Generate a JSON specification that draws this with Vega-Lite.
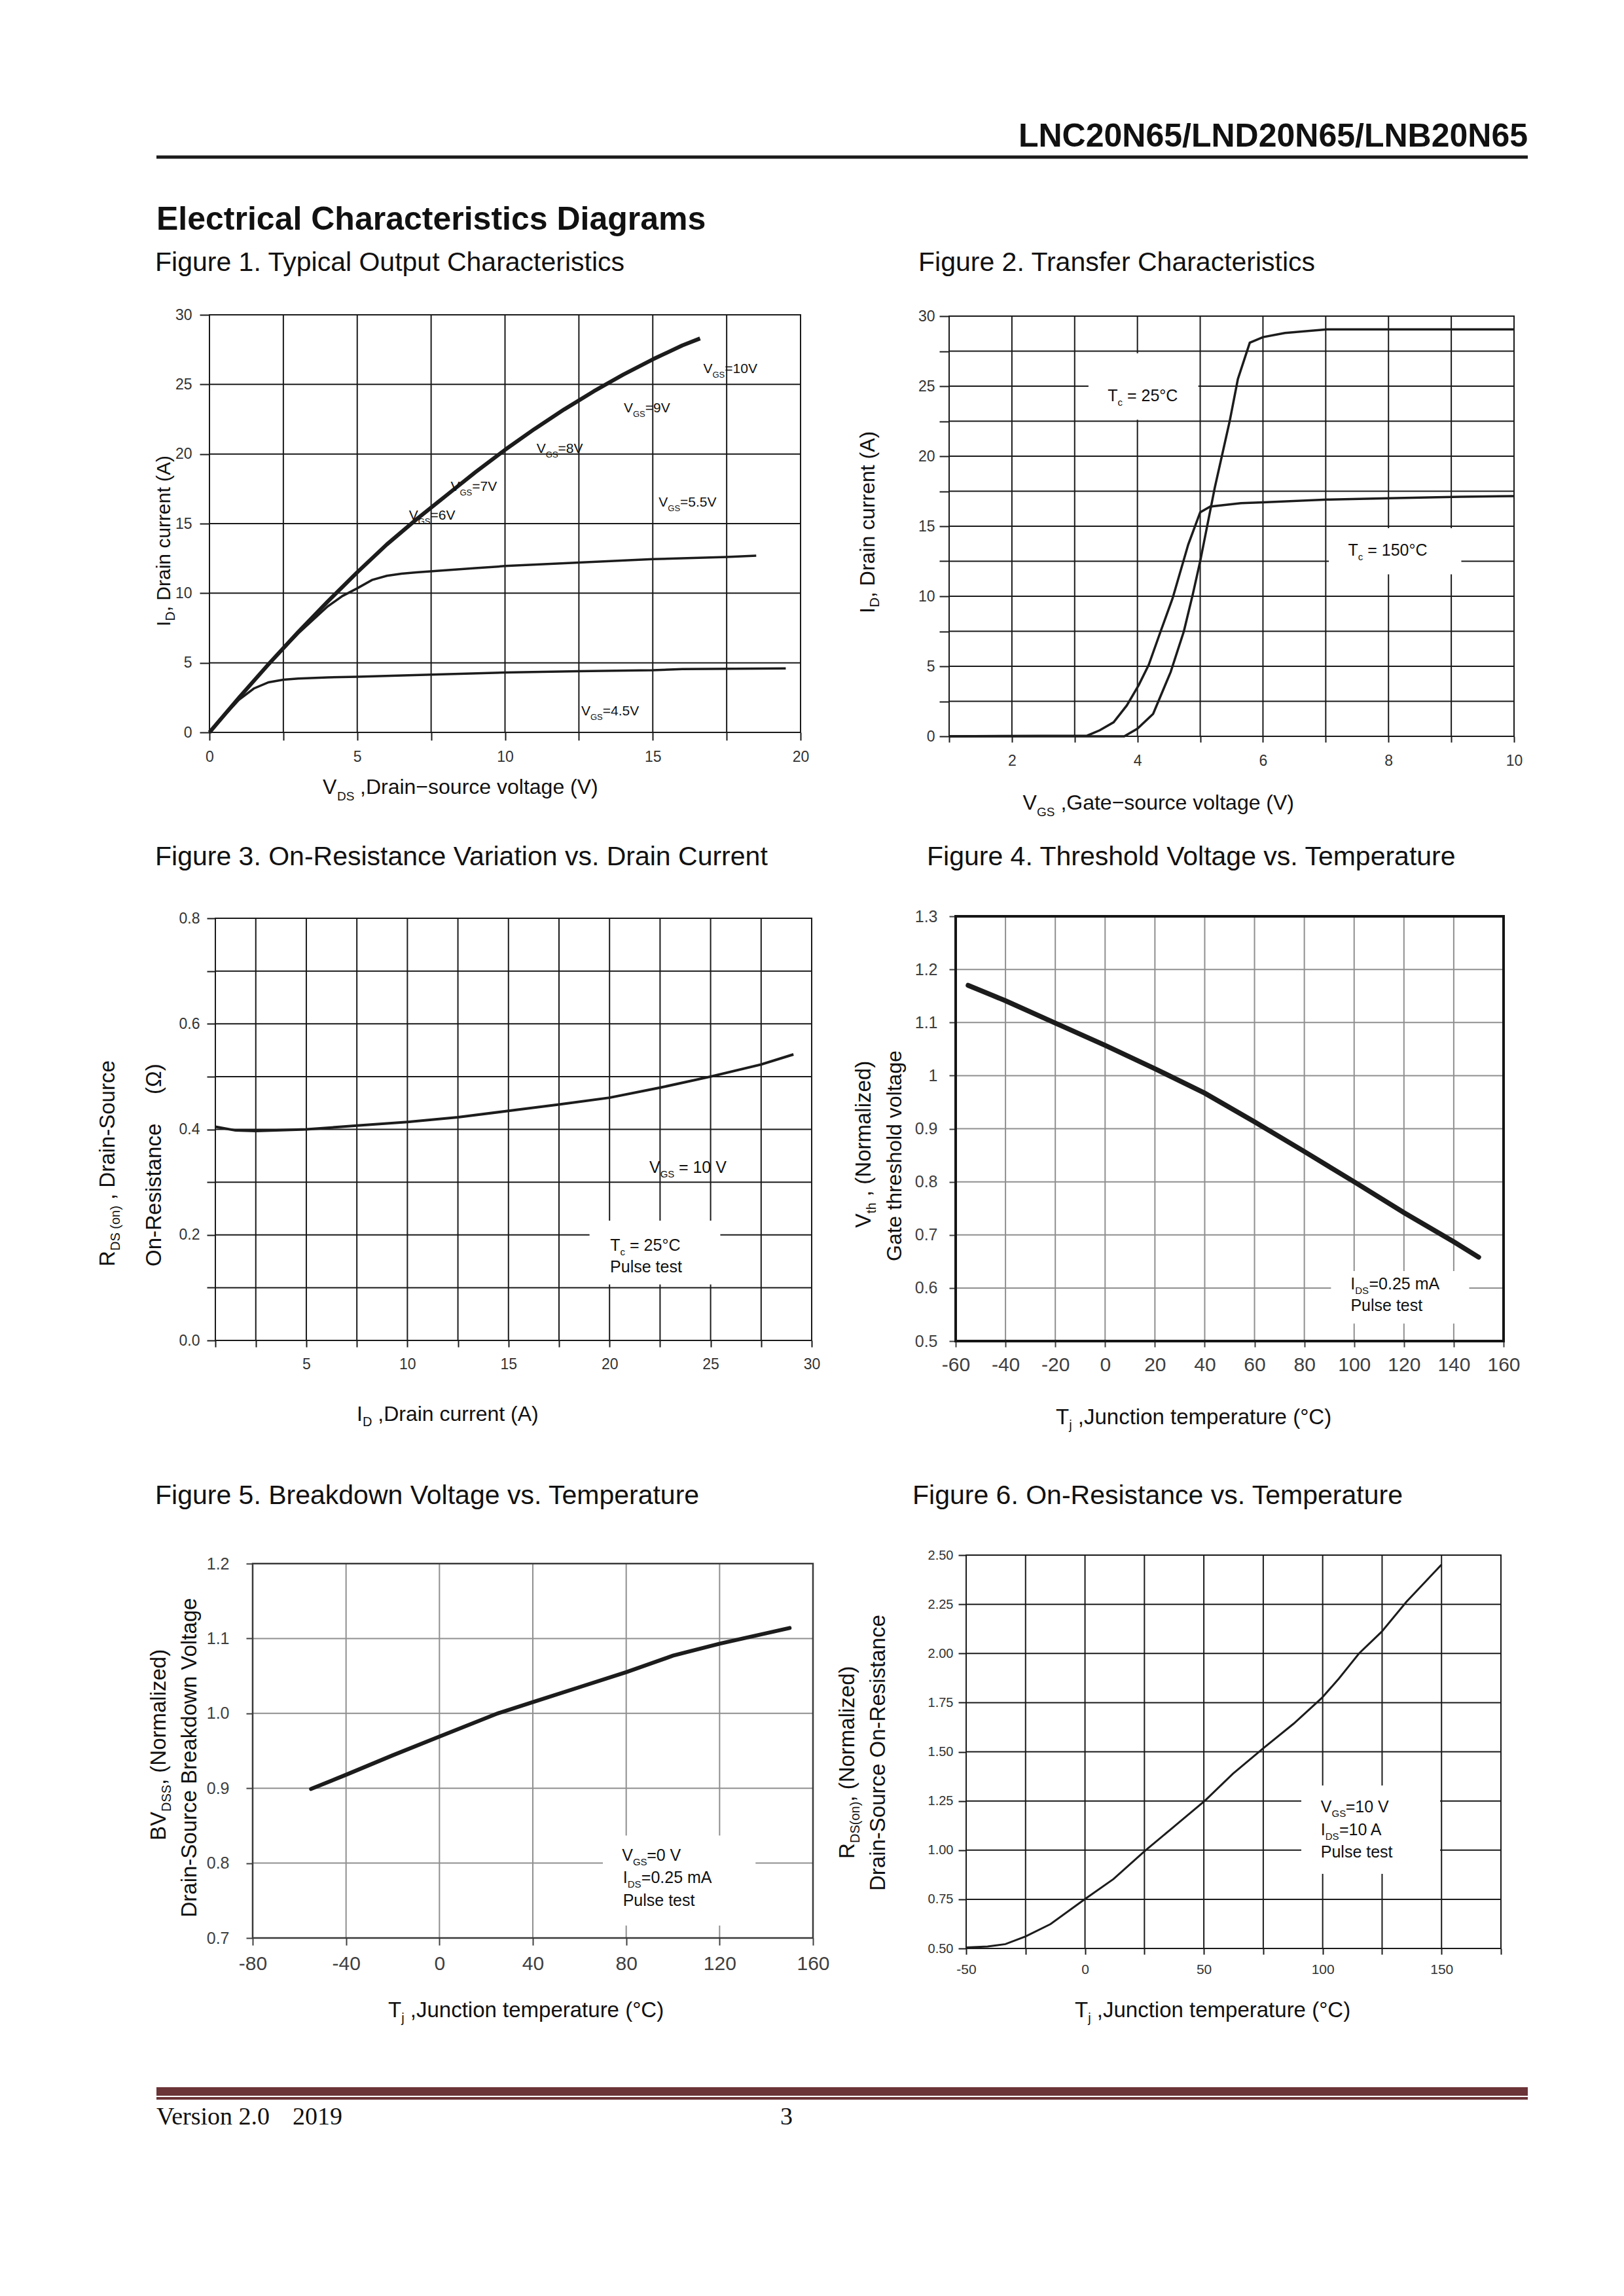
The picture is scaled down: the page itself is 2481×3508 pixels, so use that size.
{
"$schema": "https://vega.github.io/schema/vega-lite/v6.json",
"width": 2481,
"height": 3508,
"autosize": {"type": "none"},
"padding": 0,
"background": "white",
"config": {
  "view": {"stroke": null},
  "font": "Liberation Sans",
  "text": {"font": "Liberation Sans", "color": "#111111", "baseline": "alphabetic", "align": "left"},
  "axis": {"labelFont": "Liberation Sans", "domain": false, "grid": false, "ticks": true, "labelFlush": false, "labelOverlap": false, "labelBound": false}
},
"resolve": {"scale": {"x": "independent", "y": "independent"}, "axis": {"x": "independent", "y": "independent"}},
"datasets": {
  "g1x": [{"v":0},{"v":2.5},{"v":5},{"v":7.5},{"v":10},{"v":12.5},{"v":15},{"v":17.5},{"v":20}],
  "g1y": [{"v":0},{"v":5},{"v":10},{"v":15},{"v":20},{"v":25},{"v":30}],
  "g2x": [{"v":1},{"v":2},{"v":3},{"v":4},{"v":5},{"v":6},{"v":7},{"v":8},{"v":9},{"v":10}],
  "g2y": [{"v":0},{"v":2.5},{"v":5},{"v":7.5},{"v":10},{"v":12.5},{"v":15},{"v":17.5},{"v":20},{"v":22.5},{"v":25},{"v":27.5},{"v":30}],
  "g3x": [{"v":0.5},{"v":2.5},{"v":5},{"v":7.5},{"v":10},{"v":12.5},{"v":15},{"v":17.5},{"v":20},{"v":22.5},{"v":25},{"v":27.5},{"v":30}],
  "g3y": [{"v":0},{"v":0.1},{"v":0.2},{"v":0.3},{"v":0.4},{"v":0.5},{"v":0.6},{"v":0.7},{"v":0.8}],
  "g4x": [{"v":-40},{"v":-20},{"v":0},{"v":20},{"v":40},{"v":60},{"v":80},{"v":100},{"v":120},{"v":140}],
  "g4y": [{"v":0.6},{"v":0.7},{"v":0.8},{"v":0.9},{"v":1},{"v":1.1},{"v":1.2}],
  "g5x": [{"v":-40},{"v":0},{"v":40},{"v":80},{"v":120}],
  "g5y": [{"v":0.8},{"v":0.9},{"v":1},{"v":1.1}],
  "g6x": [{"v":-50},{"v":-25},{"v":0},{"v":25},{"v":50},{"v":75},{"v":100},{"v":125},{"v":150},{"v":175}],
  "g6y": [{"v":0.5},{"v":0.75},{"v":1},{"v":1.25},{"v":1.5},{"v":1.75},{"v":2},{"v":2.25},{"v":2.5}],
  "f1": [
    {"g":"10V","x":0,"y":0},{"g":"10V","x":1,"y":2.5},{"g":"10V","x":2,"y":4.9},{"g":"10V","x":3,"y":7.2},{"g":"10V","x":4,"y":9.4},{"g":"10V","x":5,"y":11.5},{"g":"10V","x":6,"y":13.5},{"g":"10V","x":7,"y":15.3},{"g":"10V","x":8,"y":17.0},{"g":"10V","x":9,"y":18.7},{"g":"10V","x":10,"y":20.3},{"g":"10V","x":11,"y":21.8},{"g":"10V","x":12,"y":23.2},{"g":"10V","x":13,"y":24.5},{"g":"10V","x":14,"y":25.7},{"g":"10V","x":15,"y":26.8},{"g":"10V","x":16,"y":27.8},{"g":"10V","x":16.6,"y":28.3},
    {"g":"5.5V","x":0,"y":0},{"g":"5.5V","x":1,"y":2.5},{"g":"5.5V","x":2,"y":4.9},{"g":"5.5V","x":3,"y":7.1},{"g":"5.5V","x":4,"y":9.05},{"g":"5.5V","x":4.5,"y":9.8},{"g":"5.5V","x":5,"y":10.35},{"g":"5.5V","x":5.5,"y":10.95},{"g":"5.5V","x":6,"y":11.25},{"g":"5.5V","x":6.5,"y":11.4},{"g":"5.5V","x":7,"y":11.5},{"g":"5.5V","x":8,"y":11.65},{"g":"5.5V","x":9,"y":11.8},{"g":"5.5V","x":10,"y":11.95},{"g":"5.5V","x":12.5,"y":12.2},{"g":"5.5V","x":15,"y":12.45},{"g":"5.5V","x":17.5,"y":12.6},{"g":"5.5V","x":18.5,"y":12.7},
    {"g":"4.5V","x":0,"y":0},{"g":"4.5V","x":0.5,"y":1.2},{"g":"4.5V","x":1,"y":2.35},{"g":"4.5V","x":1.5,"y":3.15},{"g":"4.5V","x":2,"y":3.6},{"g":"4.5V","x":2.5,"y":3.78},{"g":"4.5V","x":3,"y":3.87},{"g":"4.5V","x":4,"y":3.95},{"g":"4.5V","x":5,"y":4.0},{"g":"4.5V","x":7.5,"y":4.15},{"g":"4.5V","x":10,"y":4.3},{"g":"4.5V","x":12.5,"y":4.4},{"g":"4.5V","x":15,"y":4.47},{"g":"4.5V","x":16,"y":4.55},{"g":"4.5V","x":19.5,"y":4.6}
  ],
  "a1": [
    {"x":16.71,"y":25.8,"r":"=10V"},{"x":14.02,"y":22.99,"r":"=9V"},{"x":11.07,"y":20.09,"r":"=8V"},{"x":8.16,"y":17.33,"r":"=7V"},{"x":6.75,"y":15.29,"r":"=6V"},{"x":15.2,"y":16.2,"r":"=5.5V"},{"x":12.58,"y":1.2,"r":"=4.5V"}
  ],
  "f2": [
    {"g":"25","x":1,"y":0},{"g":"25","x":3.79,"y":0},{"g":"25","x":4.0,"y":0.55},{"g":"25","x":4.25,"y":1.6},{"g":"25","x":4.53,"y":4.6},{"g":"25","x":4.74,"y":7.5},{"g":"25","x":4.88,"y":10.1},{"g":"25","x":5.0,"y":12.5},{"g":"25","x":5.23,"y":17.7},{"g":"25","x":5.47,"y":22.5},{"g":"25","x":5.6,"y":25.5},{"g":"25","x":5.79,"y":28.1},{"g":"25","x":6.0,"y":28.5},{"g":"25","x":6.35,"y":28.8},{"g":"25","x":7.02,"y":29.05},{"g":"25","x":10,"y":29.05},
    {"g":"150","x":1,"y":0},{"g":"150","x":3.2,"y":0.05},{"g":"150","x":3.4,"y":0.43},{"g":"150","x":3.62,"y":1.0},{"g":"150","x":3.83,"y":2.2},{"g":"150","x":4.02,"y":3.65},{"g":"150","x":4.18,"y":5.1},{"g":"150","x":4.37,"y":7.5},{"g":"150","x":4.56,"y":9.85},{"g":"150","x":4.81,"y":13.7},{"g":"150","x":5.0,"y":16.0},{"g":"150","x":5.16,"y":16.4},{"g":"150","x":5.65,"y":16.65},{"g":"150","x":6.0,"y":16.7},{"g":"150","x":7.02,"y":16.9},{"g":"150","x":8.0,"y":17.0},{"g":"150","x":9.15,"y":17.1},{"g":"150","x":10,"y":17.15}
  ],
  "b2": [{"x1":3.22,"x2":4.97,"y1":22.6,"y2":27.35},{"x1":7.05,"x2":9.16,"y1":11.57,"y2":14.86}],
  "a2": [
    {"x":3.685,"y":23.92,"b":"T","s":"c","r":"= 25°C","k":"c"},
    {"x":7.515,"y":12.88,"b":"T","s":"c","r":"= 150°C","k":"c"}
  ],
  "f3": [
    {"x":0.5,"y":0.405},{"x":1.5,"y":0.398},{"x":2.5,"y":0.397},{"x":5,"y":0.4},{"x":7.5,"y":0.407},{"x":10,"y":0.414},{"x":12.5,"y":0.423},{"x":15,"y":0.435},{"x":17.5,"y":0.447},{"x":20,"y":0.46},{"x":22.5,"y":0.479},{"x":25,"y":0.5},{"x":27.5,"y":0.523},{"x":29.1,"y":0.542}
  ],
  "b3": [{"x1":19.01,"x2":25.48,"y1":0.106,"y2":0.227}],
  "a3": [
    {"x":22.51,"y":0.3176,"b":"V","s":"GS","r":"= 10 V","k":"w"},
    {"x":20.53,"y":0.1696,"b":"T","s":"c","r":"= 25°C","k":"c"},
    {"x":20.03,"y":0.129,"b":"","s":"","r":"Pulse test","k":"p"}
  ],
  "f4": [
    {"x":-55,"y":1.17},{"x":-40,"y":1.141},{"x":-20,"y":1.099},{"x":0,"y":1.057},{"x":20,"y":1.013},{"x":40,"y":0.967},{"x":60,"y":0.913},{"x":80,"y":0.857},{"x":100,"y":0.8},{"x":120,"y":0.742},{"x":140,"y":0.687},{"x":150,"y":0.658}
  ],
  "b4": [{"x1":90.7,"x2":146.2,"y1":0.533,"y2":0.632}],
  "a4": [
    {"x":100.4,"y":0.597,"b":"I","s":"DS","r":"=0.25 mA","k":"n"},
    {"x":98.6,"y":0.557,"b":"","s":"","r":"Pulse test","k":"p"}
  ],
  "f5": [
    {"x":-55,"y":0.899},{"x":-40,"y":0.918},{"x":-20,"y":0.944},{"x":0,"y":0.969},{"x":25,"y":1.0},{"x":40,"y":1.015},{"x":60,"y":1.035},{"x":80,"y":1.055},{"x":100,"y":1.077},{"x":120,"y":1.093},{"x":140,"y":1.107},{"x":150,"y":1.114}
  ],
  "b5": [{"x1":70,"x2":135.4,"y1":0.7165,"y2":0.8368}],
  "a5": [
    {"x":82.88,"y":0.8034,"b":"V","s":"GS","r":"=0 V","k":"n"},
    {"x":80.55,"y":0.7735,"b":"I","s":"DS","r":"=0.25 mA","k":"n"},
    {"x":78.6,"y":0.7432,"b":"","s":"","r":"Pulse test","k":"p"}
  ],
  "f6": [
    {"x":-50,"y":0.505},{"x":-41,"y":0.51},{"x":-33.5,"y":0.522},{"x":-25,"y":0.561},{"x":-14.5,"y":0.624},{"x":0,"y":0.751},{"x":12,"y":0.853},{"x":25.3,"y":0.997},{"x":38.5,"y":1.13},{"x":50.5,"y":1.252},{"x":62.2,"y":1.388},{"x":75.1,"y":1.519},{"x":87.8,"y":1.643},{"x":99.6,"y":1.773},{"x":106.8,"y":1.872},{"x":115.3,"y":2.0},{"x":124.8,"y":2.11},{"x":135.2,"y":2.262},{"x":150,"y":2.452}
  ],
  "b6": [{"x1":91,"x2":149.4,"y1":0.879,"y2":1.3285}],
  "a6": [
    {"x":103.8,"y":1.1927,"b":"V","s":"GS","r":"=10 V","k":"n"},
    {"x":101.11,"y":1.077,"b":"I","s":"DS","r":"=10 A","k":"n"},
    {"x":99.2,"y":0.9635,"b":"","s":"","r":"Pulse test","k":"p"}
  ]
},
"layer": [
  {"data": {"values": [{}]},
   "encoding": {"x": {"datum": 0, "scale": {"domain": [0, 1], "range": [239, 2334]}, "axis": null}, "y": {"datum": 0, "scale": {"domain": [0, 1], "range": [240, 0]}, "axis": null}},
   "layer": [
     {"mark": {"type": "rule", "color": "#1a1a1a", "strokeWidth": 5}, "encoding": {"x2": {"datum": 1}}},
     {"mark": {"type": "text", "text": "LNC20N65/LND20N65/LNB20N65", "align": "right", "fontSize": 50, "fontWeight": "bold", "dy": -16}, "encoding": {"x": {"datum": 1, "axis": null}}},
     {"mark": {"type": "text", "text": "Electrical Characteristics Diagrams", "fontSize": 50, "fontWeight": "bold", "dy": 111}}
   ]},
  {"data": {"values": [{}]},
   "mark": {"type": "rect", "color": "#6b3437"},
   "encoding": {"x": {"datum": 0, "scale": {"domain": [0, 1], "range": [239, 2334]}, "axis": null}, "x2": {"datum": 1}, "y": {"datum": 0, "scale": {"domain": [0, 1], "range": [3202, 3189]}, "axis": null}, "y2": {"datum": 1}}},
  {"data": {"values": [{}]},
   "encoding": {"x": {"datum": 0, "scale": {"domain": [0, 1], "range": [239, 2334]}, "axis": null}, "y": {"datum": 0, "scale": {"domain": [0, 1], "range": [3208, 3204]}, "axis": null}},
   "layer": [
     {"mark": {"type": "rect", "color": "#6b3437"}, "encoding": {"x2": {"datum": 1}, "y2": {"datum": 1}}},
     {"mark": {"type": "text", "text": "Version 2.0", "font": "Liberation Serif", "fontSize": 38, "dy": 38}},
     {"mark": {"type": "text", "text": "2019", "font": "Liberation Serif", "fontSize": 38, "dy": 38}, "encoding": {"x": {"datum": 0.0993, "axis": null}}},
     {"mark": {"type": "text", "text": "3", "font": "Liberation Serif", "fontSize": 38, "dy": 38}, "encoding": {"x": {"datum": 0.4549, "axis": null}}}
   ]},

  {"layer": [
     {"data": {"name": "g1x"}, "mark": {"type": "rule", "color": "#1a1a1a", "strokeWidth": 2, "strokeCap": "square"},
      "encoding": {"x": {"field": "v", "type": "quantitative", "title": null}, "y": {"datum": 0}, "y2": {"datum": 30}}},
     {"data": {"name": "g1y"}, "mark": {"type": "rule", "color": "#1a1a1a", "strokeWidth": 2, "strokeCap": "square"},
      "encoding": {"y": {"field": "v", "type": "quantitative", "title": null}, "x": {"datum": 0}, "x2": {"datum": 20}}},
     {"data": {"name": "f1"}, "transform": [{"filter": "datum.g == '10V'"}],
      "mark": {"type": "line", "color": "#1c1c1c", "strokeWidth": 6, "strokeJoin": "round"},
      "encoding": {
        "x": {"field": "x", "type": "quantitative", "title": null, "scale": {"domain": [0, 20], "range": [320, 1223], "nice": false, "zero": false},
          "axis": {"grid": false, "orient": "bottom", "offset": -2389, "values": [0, 2.5, 5, 7.5, 10, 12.5, 15, 17.5, 20], "labelExpr": "datum.value % 5 == 0 ? '' + datum.value : ''", "tickColor": "#1a1a1a", "tickWidth": 2, "tickSize": 12, "labelPadding": 14, "labelFontSize": 23, "labelColor": "#333333"}},
        "y": {"field": "y", "type": "quantitative", "title": null, "scale": {"domain": [0, 30], "range": [1119, 481], "nice": false, "zero": false},
          "axis": {"grid": false, "orient": "left", "offset": -320, "values": [0, 5, 10, 15, 20, 25, 30], "labelExpr": "'' + datum.value", "tickColor": "#1a1a1a", "tickWidth": 2, "tickSize": 15, "labelPadding": 12, "labelFontSize": 23, "labelColor": "#333333"}}
      }},
     {"data": {"name": "f1"}, "transform": [{"filter": "datum.g != '10V'"}],
      "mark": {"type": "line", "color": "#1c1c1c", "strokeWidth": 3.5},
      "encoding": {"x": {"field": "x", "type": "quantitative", "title": null}, "y": {"field": "y", "type": "quantitative", "title": null}, "detail": {"field": "g"}}},
     {"data": {"name": "a1"},
      "encoding": {"x": {"field": "x", "type": "quantitative", "title": null}, "y": {"field": "y", "type": "quantitative", "title": null}},
      "layer": [
        {"mark": {"type": "text", "text": "V", "fontSize": 21}},
        {"mark": {"type": "text", "text": "GS", "fontSize": 13, "dx": 14, "dy": 7}},
        {"mark": {"type": "text", "fontSize": 21, "dx": 32.8}, "encoding": {"text": {"field": "r"}}}
      ]},
     {"data": {"values": [{}]},
      "encoding": {"x": {"datum": 0}, "y": {"datum": 0}},
      "layer": [
        {"mark": {"type": "text", "text": "Figure 1. Typical Output Characteristics", "fontSize": 41, "dx": -83, "dy": -67}, "encoding": {"y": {"datum": 30}}},
        {"mark": {"type": "text", "text": "V", "fontSize": 32, "dx": 173, "dy": 94}},
        {"mark": {"type": "text", "text": "DS", "fontSize": 19, "dx": 195, "dy": 104}},
        {"mark": {"type": "text", "text": ",Drain−source voltage (V)", "fontSize": 32, "dx": 230, "dy": 94}},
        {"mark": {"type": "text", "text": "I", "fontSize": 30, "angle": 270, "dx": 162, "dy": -60}},
        {"mark": {"type": "text", "text": "D", "fontSize": 20, "angle": 270, "dx": 170.3, "dy": -53}},
        {"mark": {"type": "text", "text": ", Drain current (A)", "fontSize": 30, "angle": 270, "dx": 184.7, "dy": -60}}
      ]}
  ]},

  {"layer": [
     {"data": {"name": "g2x"}, "mark": {"type": "rule", "color": "#1a1a1a", "strokeWidth": 2, "strokeCap": "square"},
      "encoding": {"x": {"field": "v", "type": "quantitative", "title": null}, "y": {"datum": 0}, "y2": {"datum": 30}}},
     {"data": {"name": "g2y"}, "mark": {"type": "rule", "color": "#1a1a1a", "strokeWidth": 2, "strokeCap": "square"},
      "encoding": {"y": {"field": "v", "type": "quantitative", "title": null}, "x": {"datum": 1}, "x2": {"datum": 10}}},
     {"data": {"name": "b2"}, "mark": {"type": "rect", "color": "white"},
      "encoding": {"x": {"field": "x1", "type": "quantitative", "title": null}, "x2": {"field": "x2"}, "y": {"field": "y1", "type": "quantitative", "title": null}, "y2": {"field": "y2"}}},
     {"data": {"name": "f2"},
      "mark": {"type": "line", "color": "#1c1c1c", "strokeWidth": 3.5},
      "encoding": {
        "x": {"field": "x", "type": "quantitative", "title": null, "scale": {"domain": [1, 10], "range": [1450, 2313], "nice": false, "zero": false},
          "axis": {"grid": false, "orient": "bottom", "offset": -2383, "values": [1, 2, 3, 4, 5, 6, 7, 8, 9, 10], "labelExpr": "datum.value % 2 == 0 ? '' + datum.value : ''", "tickColor": "#1a1a1a", "tickWidth": 2, "tickSize": 9, "labelPadding": 17, "labelFontSize": 23, "labelColor": "#333333"}},
        "y": {"field": "y", "type": "quantitative", "title": null, "scale": {"domain": [0, 30], "range": [1125, 483], "nice": false, "zero": false},
          "axis": {"grid": false, "orient": "left", "offset": -1450, "values": [0, 2.5, 5, 7.5, 10, 12.5, 15, 17.5, 20, 22.5, 25, 27.5, 30], "labelExpr": "datum.value % 5 == 0 ? '' + datum.value : ''", "tickColor": "#1a1a1a", "tickWidth": 2, "tickSize": 15, "labelPadding": 7, "labelFontSize": 23, "labelColor": "#333333"}},
        "detail": {"field": "g"}
      }},
     {"data": {"name": "a2"},
      "encoding": {"x": {"field": "x", "type": "quantitative", "title": null}, "y": {"field": "y", "type": "quantitative", "title": null}},
      "layer": [
        {"mark": {"type": "text", "align": "right", "fontSize": 25}, "encoding": {"text": {"field": "b"}}},
        {"mark": {"type": "text", "fontSize": 15, "dy": 7}, "encoding": {"text": {"field": "s"}}},
        {"mark": {"type": "text", "fontSize": 25, "dx": 14.5}, "encoding": {"text": {"field": "r"}}}
      ]},
     {"data": {"values": [{}]},
      "encoding": {"x": {"datum": 1}, "y": {"datum": 0}},
      "layer": [
        {"mark": {"type": "text", "text": "Figure 2. Transfer Characteristics", "fontSize": 41, "dx": -47, "dy": -69}, "encoding": {"y": {"datum": 30}}},
        {"mark": {"type": "text", "text": "V", "fontSize": 32, "dx": 112.5, "dy": 112}},
        {"mark": {"type": "text", "text": "GS", "fontSize": 19, "dx": 134, "dy": 122}},
        {"mark": {"type": "text", "text": ",Gate−source voltage (V)", "fontSize": 32, "dx": 170.4, "dy": 112}},
        {"mark": {"type": "text", "text": "I", "fontSize": 32, "angle": 270, "dx": 188, "dy": -114}},
        {"mark": {"type": "text", "text": "D", "fontSize": 21, "angle": 270, "dx": 196.9, "dy": -107}},
        {"mark": {"type": "text", "text": ", Drain current (A)", "fontSize": 32, "angle": 270, "dx": 212, "dy": -114}}
      ]}
  ]},

  {"layer": [
     {"data": {"name": "g3x"}, "mark": {"type": "rule", "color": "#1a1a1a", "strokeWidth": 2, "strokeCap": "square"},
      "encoding": {"x": {"field": "v", "type": "quantitative", "title": null}, "y": {"datum": 0}, "y2": {"datum": 0.8}}},
     {"data": {"name": "g3y"}, "mark": {"type": "rule", "color": "#1a1a1a", "strokeWidth": 2, "strokeCap": "square"},
      "encoding": {"y": {"field": "v", "type": "quantitative", "title": null}, "x": {"datum": 0.5}, "x2": {"datum": 30}}},
     {"data": {"name": "b3"}, "mark": {"type": "rect", "color": "white"},
      "encoding": {"x": {"field": "x1", "type": "quantitative", "title": null}, "x2": {"field": "x2"}, "y": {"field": "y1", "type": "quantitative", "title": null}, "y2": {"field": "y2"}}},
     {"data": {"name": "f3"},
      "mark": {"type": "line", "color": "#1c1c1c", "strokeWidth": 4},
      "encoding": {
        "x": {"field": "x", "type": "quantitative", "title": null, "scale": {"domain": [0.5, 30], "range": [329, 1240], "nice": false, "zero": false},
          "axis": {"grid": false, "orient": "bottom", "offset": -1460, "values": [0.5, 2.5, 5, 7.5, 10, 12.5, 15, 17.5, 20, 22.5, 25, 27.5, 30], "labelExpr": "datum.value % 5 == 0 ? '' + datum.value : ''", "tickColor": "#1a1a1a", "tickWidth": 2, "tickSize": 10, "labelPadding": 15, "labelFontSize": 23, "labelColor": "#333333"}},
        "y": {"field": "y", "type": "quantitative", "title": null, "scale": {"domain": [0, 0.8], "range": [2048, 1403], "nice": false, "zero": false},
          "axis": {"grid": false, "orient": "left", "offset": -329, "values": [0, 0.1, 0.2, 0.3, 0.4, 0.5, 0.6, 0.7, 0.8], "labelExpr": "round(datum.value * 10) % 2 == 0 ? format(datum.value, '.1f') : ''", "tickColor": "#1a1a1a", "tickWidth": 2, "tickSize": 13, "labelPadding": 11, "labelFontSize": 23, "labelColor": "#333333"}}
      }},
     {"data": {"name": "a3"},
      "encoding": {"x": {"field": "x", "type": "quantitative", "title": null}, "y": {"field": "y", "type": "quantitative", "title": null}},
      "layer": [
        {"transform": [{"filter": "datum.k != 'p'"}], "mark": {"type": "text", "align": "right", "fontSize": 25}, "encoding": {"text": {"field": "b"}}},
        {"transform": [{"filter": "datum.k != 'p'"}], "mark": {"type": "text", "fontSize": 15, "dy": 7}, "encoding": {"text": {"field": "s"}}},
        {"transform": [{"filter": "datum.k == 'w'"}], "mark": {"type": "text", "fontSize": 25, "dx": 28.2}, "encoding": {"text": {"field": "r"}}},
        {"transform": [{"filter": "datum.k == 'c'"}], "mark": {"type": "text", "fontSize": 25, "dx": 14.5}, "encoding": {"text": {"field": "r"}}},
        {"transform": [{"filter": "datum.k == 'p'"}], "mark": {"type": "text", "fontSize": 25}, "encoding": {"text": {"field": "r"}}}
      ]},
     {"data": {"values": [{}]},
      "encoding": {"x": {"datum": 0.5}, "y": {"datum": 0}},
      "layer": [
        {"mark": {"type": "text", "text": "Figure 3. On-Resistance Variation vs. Drain Current", "fontSize": 41, "dx": -92, "dy": -81}, "encoding": {"y": {"datum": 0.8}}},
        {"mark": {"type": "text", "text": "I", "fontSize": 32, "dx": 216, "dy": 123}},
        {"mark": {"type": "text", "text": "D", "fontSize": 20, "dx": 225, "dy": 131}},
        {"mark": {"type": "text", "text": ",Drain current (A)", "fontSize": 32, "dx": 248.3, "dy": 123}},
        {"mark": {"type": "text", "text": "R", "fontSize": 33, "angle": 270, "dx": 113, "dy": -154}},
        {"mark": {"type": "text", "text": "DS (on)", "fontSize": 20, "angle": 270, "dx": 137, "dy": -146}},
        {"mark": {"type": "text", "text": ", Drain-Source", "fontSize": 33, "angle": 270, "dx": 215, "dy": -154}},
        {"mark": {"type": "text", "text": "On-Resistance", "fontSize": 33, "angle": 270, "dx": 113, "dy": -83}},
        {"mark": {"type": "text", "text": "(Ω)", "fontSize": 33, "angle": 270, "dx": 376, "dy": -83}}
      ]}
  ]},

  {"layer": [
     {"data": {"name": "g4x"}, "mark": {"type": "rule", "color": "#8f8f8f", "strokeWidth": 2},
      "encoding": {"x": {"field": "v", "type": "quantitative", "title": null}, "y": {"datum": 0.5}, "y2": {"datum": 1.3}}},
     {"data": {"name": "g4y"}, "mark": {"type": "rule", "color": "#8f8f8f", "strokeWidth": 2},
      "encoding": {"y": {"field": "v", "type": "quantitative", "title": null}, "x": {"datum": -60}, "x2": {"datum": 160}}},
     {"data": {"name": "b4"}, "mark": {"type": "rect", "color": "white"},
      "encoding": {"x": {"field": "x1", "type": "quantitative", "title": null}, "x2": {"field": "x2"}, "y": {"field": "y1", "type": "quantitative", "title": null}, "y2": {"field": "y2"}}},
     {"data": {"name": "f4"},
      "mark": {"type": "line", "color": "#1c1c1c", "strokeWidth": 7.5, "strokeCap": "round"},
      "encoding": {
        "x": {"field": "x", "type": "quantitative", "title": null, "scale": {"domain": [-60, 160], "range": [1460, 2297], "nice": false, "zero": false},
          "axis": {"grid": false, "orient": "bottom", "offset": -1459, "values": [-60, -40, -20, 0, 20, 40, 60, 80, 100, 120, 140, 160], "labelExpr": "'' + datum.value", "tickColor": "#404040", "tickWidth": 2, "tickSize": 9, "labelPadding": 12, "labelFontSize": 30, "labelColor": "#404040"}},
        "y": {"field": "y", "type": "quantitative", "title": null, "scale": {"domain": [0.5, 1.3], "range": [2049, 1400], "nice": false, "zero": false},
          "axis": {"grid": false, "orient": "left", "offset": -1460, "values": [0.5, 0.6, 0.7, 0.8, 0.9, 1, 1.1, 1.2, 1.3], "labelExpr": "'' + datum.value", "tickColor": "#404040", "tickWidth": 2, "tickSize": 10, "labelPadding": 18, "labelFontSize": 25, "labelColor": "#404040"}}
      }},
     {"data": {"name": "a4"},
      "encoding": {"x": {"field": "x", "type": "quantitative", "title": null}, "y": {"field": "y", "type": "quantitative", "title": null}},
      "layer": [
        {"transform": [{"filter": "datum.k != 'p'"}], "mark": {"type": "text", "align": "right", "fontSize": 25}, "encoding": {"text": {"field": "b"}}},
        {"transform": [{"filter": "datum.k != 'p'"}], "mark": {"type": "text", "fontSize": 15, "dy": 7}, "encoding": {"text": {"field": "s"}}},
        {"transform": [{"filter": "datum.k == 'n'"}], "mark": {"type": "text", "fontSize": 25, "dx": 21.2}, "encoding": {"text": {"field": "r"}}},
        {"transform": [{"filter": "datum.k == 'p'"}], "mark": {"type": "text", "fontSize": 25}, "encoding": {"text": {"field": "r"}}}
      ]},
     {"data": {"values": [{}]},
      "encoding": {"x": {"datum": -60}, "y": {"datum": 0.5}},
      "layer": [
        {"mark": {"type": "rect", "filled": false, "color": "#151515", "strokeWidth": 4}, "encoding": {"x2": {"datum": 160}, "y2": {"datum": 1.3}}},
        {"mark": {"type": "text", "text": "Figure 4. Threshold Voltage vs. Temperature", "fontSize": 41, "dx": -44, "dy": -78}, "encoding": {"y": {"datum": 1.3}}},
        {"mark": {"type": "text", "text": "T", "fontSize": 33, "dx": 153, "dy": 127}},
        {"mark": {"type": "text", "text": "j", "fontSize": 20, "dx": 173.2, "dy": 135}},
        {"mark": {"type": "text", "text": ",Junction temperature (°C)", "fontSize": 33, "dx": 186.8, "dy": 127}},
        {"mark": {"type": "text", "text": "V", "fontSize": 33, "angle": 270, "dx": 173, "dy": -130}},
        {"mark": {"type": "text", "text": "th", "fontSize": 20, "angle": 270, "dx": 195, "dy": -122}},
        {"mark": {"type": "text", "text": ", (Normalized)", "fontSize": 33, "angle": 270, "dx": 221, "dy": -130}},
        {"mark": {"type": "text", "text": "Gate threshold voltage", "fontSize": 32, "angle": 270, "dx": 122, "dy": -83}}
      ]}
  ]},

  {"layer": [
     {"data": {"name": "g5x"}, "mark": {"type": "rule", "color": "#8f8f8f", "strokeWidth": 2},
      "encoding": {"x": {"field": "v", "type": "quantitative", "title": null}, "y": {"datum": 0.7}, "y2": {"datum": 1.2}}},
     {"data": {"name": "g5y"}, "mark": {"type": "rule", "color": "#8f8f8f", "strokeWidth": 2},
      "encoding": {"y": {"field": "v", "type": "quantitative", "title": null}, "x": {"datum": -80}, "x2": {"datum": 160}}},
     {"data": {"name": "b5"}, "mark": {"type": "rect", "color": "white"},
      "encoding": {"x": {"field": "x1", "type": "quantitative", "title": null}, "x2": {"field": "x2"}, "y": {"field": "y1", "type": "quantitative", "title": null}, "y2": {"field": "y2"}}},
     {"data": {"name": "f5"},
      "mark": {"type": "line", "color": "#1c1c1c", "strokeWidth": 6, "strokeCap": "round"},
      "encoding": {
        "x": {"field": "x", "type": "quantitative", "title": null, "scale": {"domain": [-80, 160], "range": [386, 1242], "nice": false, "zero": false},
          "axis": {"grid": false, "orient": "bottom", "offset": -547, "values": [-80, -40, 0, 40, 80, 120, 160], "labelExpr": "'' + datum.value", "tickColor": "#404040", "tickWidth": 2, "tickSize": 11, "labelPadding": 13, "labelFontSize": 30, "labelColor": "#404040"}},
        "y": {"field": "y", "type": "quantitative", "title": null, "scale": {"domain": [0.7, 1.2], "range": [2961, 2389], "nice": false, "zero": false},
          "axis": {"grid": false, "orient": "left", "offset": -386, "values": [0.7, 0.8, 0.9, 1, 1.1, 1.2], "labelExpr": "format(datum.value, '.1f')", "tickColor": "#404040", "tickWidth": 2, "tickSize": 10, "labelPadding": 26, "labelFontSize": 25, "labelColor": "#404040"}}
      }},
     {"data": {"name": "a5"},
      "encoding": {"x": {"field": "x", "type": "quantitative", "title": null}, "y": {"field": "y", "type": "quantitative", "title": null}},
      "layer": [
        {"transform": [{"filter": "datum.k != 'p'"}], "mark": {"type": "text", "align": "right", "fontSize": 25}, "encoding": {"text": {"field": "b"}}},
        {"transform": [{"filter": "datum.k != 'p'"}], "mark": {"type": "text", "fontSize": 15, "dy": 7}, "encoding": {"text": {"field": "s"}}},
        {"transform": [{"filter": "datum.k == 'n'"}], "mark": {"type": "text", "fontSize": 25, "dx": 21.2}, "encoding": {"text": {"field": "r"}}},
        {"transform": [{"filter": "datum.k == 'p'"}], "mark": {"type": "text", "fontSize": 25}, "encoding": {"text": {"field": "r"}}}
      ]},
     {"data": {"values": [{}]},
      "encoding": {"x": {"datum": -80}, "y": {"datum": 0.7}},
      "layer": [
        {"mark": {"type": "rect", "filled": false, "color": "#3a3a3a", "strokeWidth": 2.5}, "encoding": {"x2": {"datum": 160}, "y2": {"datum": 1.2}}},
        {"mark": {"type": "text", "text": "Figure 5. Breakdown Voltage vs. Temperature", "fontSize": 41, "dx": -149, "dy": -91}, "encoding": {"y": {"datum": 1.2}}},
        {"mark": {"type": "text", "text": "T", "fontSize": 33, "dx": 207, "dy": 121}},
        {"mark": {"type": "text", "text": "j", "fontSize": 20, "dx": 227.2, "dy": 129}},
        {"mark": {"type": "text", "text": ",Junction temperature (°C)", "fontSize": 33, "dx": 240.8, "dy": 121}},
        {"mark": {"type": "text", "text": "BV", "fontSize": 33, "angle": 270, "dx": 149, "dy": -133}},
        {"mark": {"type": "text", "text": "DSS", "fontSize": 20, "angle": 270, "dx": 193, "dy": -125}},
        {"mark": {"type": "text", "text": ", (Normalized)", "fontSize": 33, "angle": 270, "dx": 234, "dy": -133}},
        {"mark": {"type": "text", "text": "Drain-Source Breakdown Voltage", "fontSize": 33, "angle": 270, "dx": 31.5, "dy": -86}}
      ]}
  ]},

  {"layer": [
     {"data": {"name": "g6x"}, "mark": {"type": "rule", "color": "#1a1a1a", "strokeWidth": 2, "strokeCap": "square"},
      "encoding": {"x": {"field": "v", "type": "quantitative", "title": null}, "y": {"datum": 0.5}, "y2": {"datum": 2.5}}},
     {"data": {"name": "g6y"}, "mark": {"type": "rule", "color": "#1a1a1a", "strokeWidth": 2, "strokeCap": "square"},
      "encoding": {"y": {"field": "v", "type": "quantitative", "title": null}, "x": {"datum": -50}, "x2": {"datum": 175}}},
     {"data": {"name": "b6"}, "mark": {"type": "rect", "color": "white"},
      "encoding": {"x": {"field": "x1", "type": "quantitative", "title": null}, "x2": {"field": "x2"}, "y": {"field": "y1", "type": "quantitative", "title": null}, "y2": {"field": "y2"}}},
     {"data": {"name": "f6"},
      "mark": {"type": "line", "color": "#1c1c1c", "strokeWidth": 3},
      "encoding": {
        "x": {"field": "x", "type": "quantitative", "title": null, "scale": {"domain": [-50, 175], "range": [1476, 2293], "nice": false, "zero": false},
          "axis": {"grid": false, "orient": "bottom", "offset": -531, "values": [-50, -25, 0, 25, 50, 75, 100, 125, 150, 175], "labelExpr": "datum.value % 50 == 0 ? '' + datum.value : ''", "tickColor": "#1a1a1a", "tickWidth": 2, "tickSize": 9, "labelPadding": 12, "labelFontSize": 21, "labelColor": "#333333"}},
        "y": {"field": "y", "type": "quantitative", "title": null, "scale": {"domain": [0.5, 2.5], "range": [2977, 2376], "nice": false, "zero": false},
          "axis": {"grid": false, "orient": "left", "offset": -1476, "values": [0.5, 0.75, 1, 1.25, 1.5, 1.75, 2, 2.25, 2.5], "labelExpr": "format(datum.value, '.2f')", "tickColor": "#1a1a1a", "tickWidth": 2, "tickSize": 12, "labelPadding": 8, "labelFontSize": 20, "labelColor": "#333333"}}
      }},
     {"data": {"name": "a6"},
      "encoding": {"x": {"field": "x", "type": "quantitative", "title": null}, "y": {"field": "y", "type": "quantitative", "title": null}},
      "layer": [
        {"transform": [{"filter": "datum.k != 'p'"}], "mark": {"type": "text", "align": "right", "fontSize": 25}, "encoding": {"text": {"field": "b"}}},
        {"transform": [{"filter": "datum.k != 'p'"}], "mark": {"type": "text", "fontSize": 15, "dy": 7}, "encoding": {"text": {"field": "s"}}},
        {"transform": [{"filter": "datum.k == 'n'"}], "mark": {"type": "text", "fontSize": 25, "dx": 21.2}, "encoding": {"text": {"field": "r"}}},
        {"transform": [{"filter": "datum.k == 'p'"}], "mark": {"type": "text", "fontSize": 25}, "encoding": {"text": {"field": "r"}}}
      ]},
     {"data": {"values": [{}]},
      "encoding": {"x": {"datum": -50}, "y": {"datum": 0.5}},
      "layer": [
        {"mark": {"type": "text", "text": "Figure 6. On-Resistance vs. Temperature", "fontSize": 41, "dx": -82, "dy": -78}, "encoding": {"y": {"datum": 2.5}}},
        {"mark": {"type": "text", "text": "T", "fontSize": 33, "dx": 166, "dy": 105}},
        {"mark": {"type": "text", "text": "j", "fontSize": 20, "dx": 186.2, "dy": 113}},
        {"mark": {"type": "text", "text": ",Junction temperature (°C)", "fontSize": 33, "dx": 199.8, "dy": 105}},
        {"mark": {"type": "text", "text": "R", "fontSize": 33, "angle": 270, "dx": 137, "dy": -171}},
        {"mark": {"type": "text", "text": "DS(on)", "fontSize": 20, "angle": 270, "dx": 161, "dy": -163}},
        {"mark": {"type": "text", "text": ", (Normalized)", "fontSize": 33, "angle": 270, "dx": 224.3, "dy": -171}},
        {"mark": {"type": "text", "text": "Drain-Source On-Resistance", "fontSize": 33, "angle": 270, "dx": 88, "dy": -124}}
      ]}
  ]}
]
}
